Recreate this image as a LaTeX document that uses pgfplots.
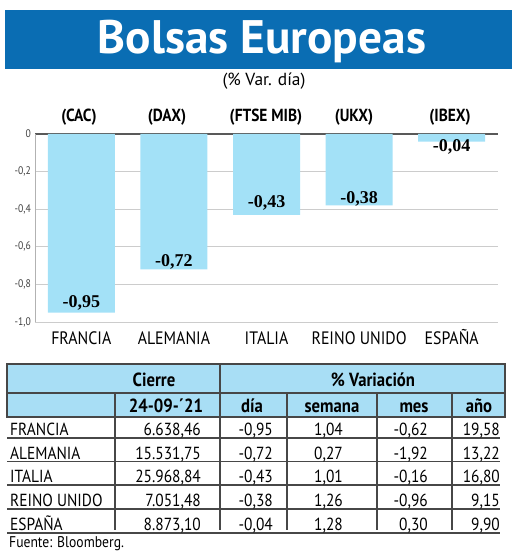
\documentclass[border=0pt]{standalone}
\usepackage{pgfplots}
\pgfplotsset{compat=1.18}
\usepackage{fontspec}
\setmainfont{PT Sans}
\newfontfamily\cn[FakeStretch=0.88]{PT Sans}
\newfontfamily\srf{Liberation Serif}
\definecolor{tblue}{HTML}{0A6DB3}
\definecolor{lblue}{HTML}{A3E1F7}
\definecolor{hblue}{HTML}{A8DEF5}
\definecolor{lgray}{HTML}{474747}
\newcommand{\fs}[1]{\fontsize{#1}{#1}\selectfont}
\begin{document}
\begin{tikzpicture}
\begin{scope}[x=1pt,y=-1pt,yshift=559pt]
\path[use as bounding box] (0,0) rectangle (520,559);
% title
\fill[tblue] (5,10) rectangle (512,69);
\node[anchor=base, text=white, inner sep=0pt] at (262,54) {\resizebox{328pt}{\height}{\fs{47}\bfseries Bolsas Europeas}};
\node[anchor=base, inner sep=0pt] at (264,86) {\resizebox{83pt}{\height}{\cn\fs{17.5}(\% Var. día)}};
% index labels
\foreach \x/\t in {79/CAC,167/DAX,266/FTSE MIB,354/UKX,450/IBEX}
  \node[anchor=base, inner sep=0pt] at (\x,122) {\cn\fs{17.5}\bfseries (\t)};
% table
\fill[hblue] (7,364) rectangle (505,417);
\begin{scope}[draw=lgray, line width=1.1pt]
\draw (7,364) rectangle (505,417);
\draw (7,393) -- (505,393);
\draw (220,364) -- (220,530);
\foreach \x in {115,287,377,452} \draw (\x,393) -- (\x,530);
\foreach \y in {438,461.5,485,509,533} \draw (7,\y) -- (500,\y);
\end{scope}
\begin{scope}[every node/.style={anchor=base, inner sep=0pt, font=\cn\fs{19}\bfseries}]
\node at (154,387) {Cierre};
\node at (373,387) {\% Variación};
\node at (166,413) {24-09-´21};
\node at (252,413) {día};
\node at (332,413) {semana};
\node at (414,413) {mes};
\node at (479,413) {año};
\end{scope}
\begin{scope}[every node/.style={anchor=base east, inner sep=0pt, font=\cn\fs{17.5}}]
\foreach \y/\n/\c/\d/\s/\m/\a in {
  436/FRANCIA/6.638{,}46/-0{,}95/1{,}04/-0{,}62/19{,}58,
  459.5/ALEMANIA/15.531{,}75/-0{,}72/0{,}27/-1{,}92/13{,}22,
  483/ITALIA/25.968{,}84/-0{,}43/1{,}01/-0{,}16/16{,}80,
  507/REINO UNIDO/7.051{,}48/-0{,}38/1{,}26/-0{,}96/9{,}15,
  531/ESPAÑA/8.873{,}10/-0{,}04/1{,}28/0{,}30/9{,}90}{
  \node[anchor=base west] at (10,\y) {\n};
  \node at (201,\y) {\c};
  \node at (273,\y) {\d};
  \node at (343,\y) {\s};
  \node at (428,\y) {\m};
  \node at (500,\y) {\a};
}
\end{scope}
\node[anchor=base west, inner sep=0pt] at (9,548) {\cn\fs{15.5}Fuente: Bloomberg.};
\end{scope}
\begin{axis}[at={(35pt,237pt)}, anchor=south west, scale only axis,
  width=463pt, height=188pt, xmin=-0.5, xmax=4.5, ymin=-1, ymax=0,
  axis line style={draw=none}, clip=false,
  ytick={-1,-0.8,-0.6,-0.4,-0.2,0},
  yticklabels={{-1,0},{-0,8},{-0,6},{-0,4},{-0,2},0},
  ymajorgrids, grid style={line width=0.8pt, color=gray!40},
  major tick length=0pt,
  xtick={0,1,2,3,4},
  xticklabels={FRANCIA,ALEMANIA,ITALIA,REINO UNIDO,ESPAÑA},
  xticklabel style={font=\cn\fs{18}, anchor=base, yshift=-23pt, inner sep=0pt},
  yticklabel style={font=\cn\fs{11}, text=black!75, inner sep=0pt, xshift=-4pt},
  /pgf/number format/assume math mode=true]
\draw[black!65, line width=1.5pt] (axis cs:-0.5,0) -- (axis cs:4.5,0);
\addplot[ybar, bar width=67pt, fill=lblue, draw=none] coordinates {(0,-0.95) (1,-0.72) (2,-0.43) (3,-0.38) (4,-0.04)};
\draw[gray!60, line width=0.8pt] (axis cs:-0.5,0) -- (axis cs:-0.5,-1);
\addplot[draw=none, mark=none, nodes near coords, point meta=explicit symbolic,
  nodes near coords align={center},
  every node near coord/.append style={font=\srf\bfseries\fs{18}, inner sep=0pt, text=black}]
  coordinates {(0,-0.899) [-0,95] (1,-0.681) [-0,72] (2,-0.367) [-0,43] (3,-0.346) [-0,38] (4,-0.069) [-0,04]};
\end{axis}
\end{tikzpicture}
\end{document}
